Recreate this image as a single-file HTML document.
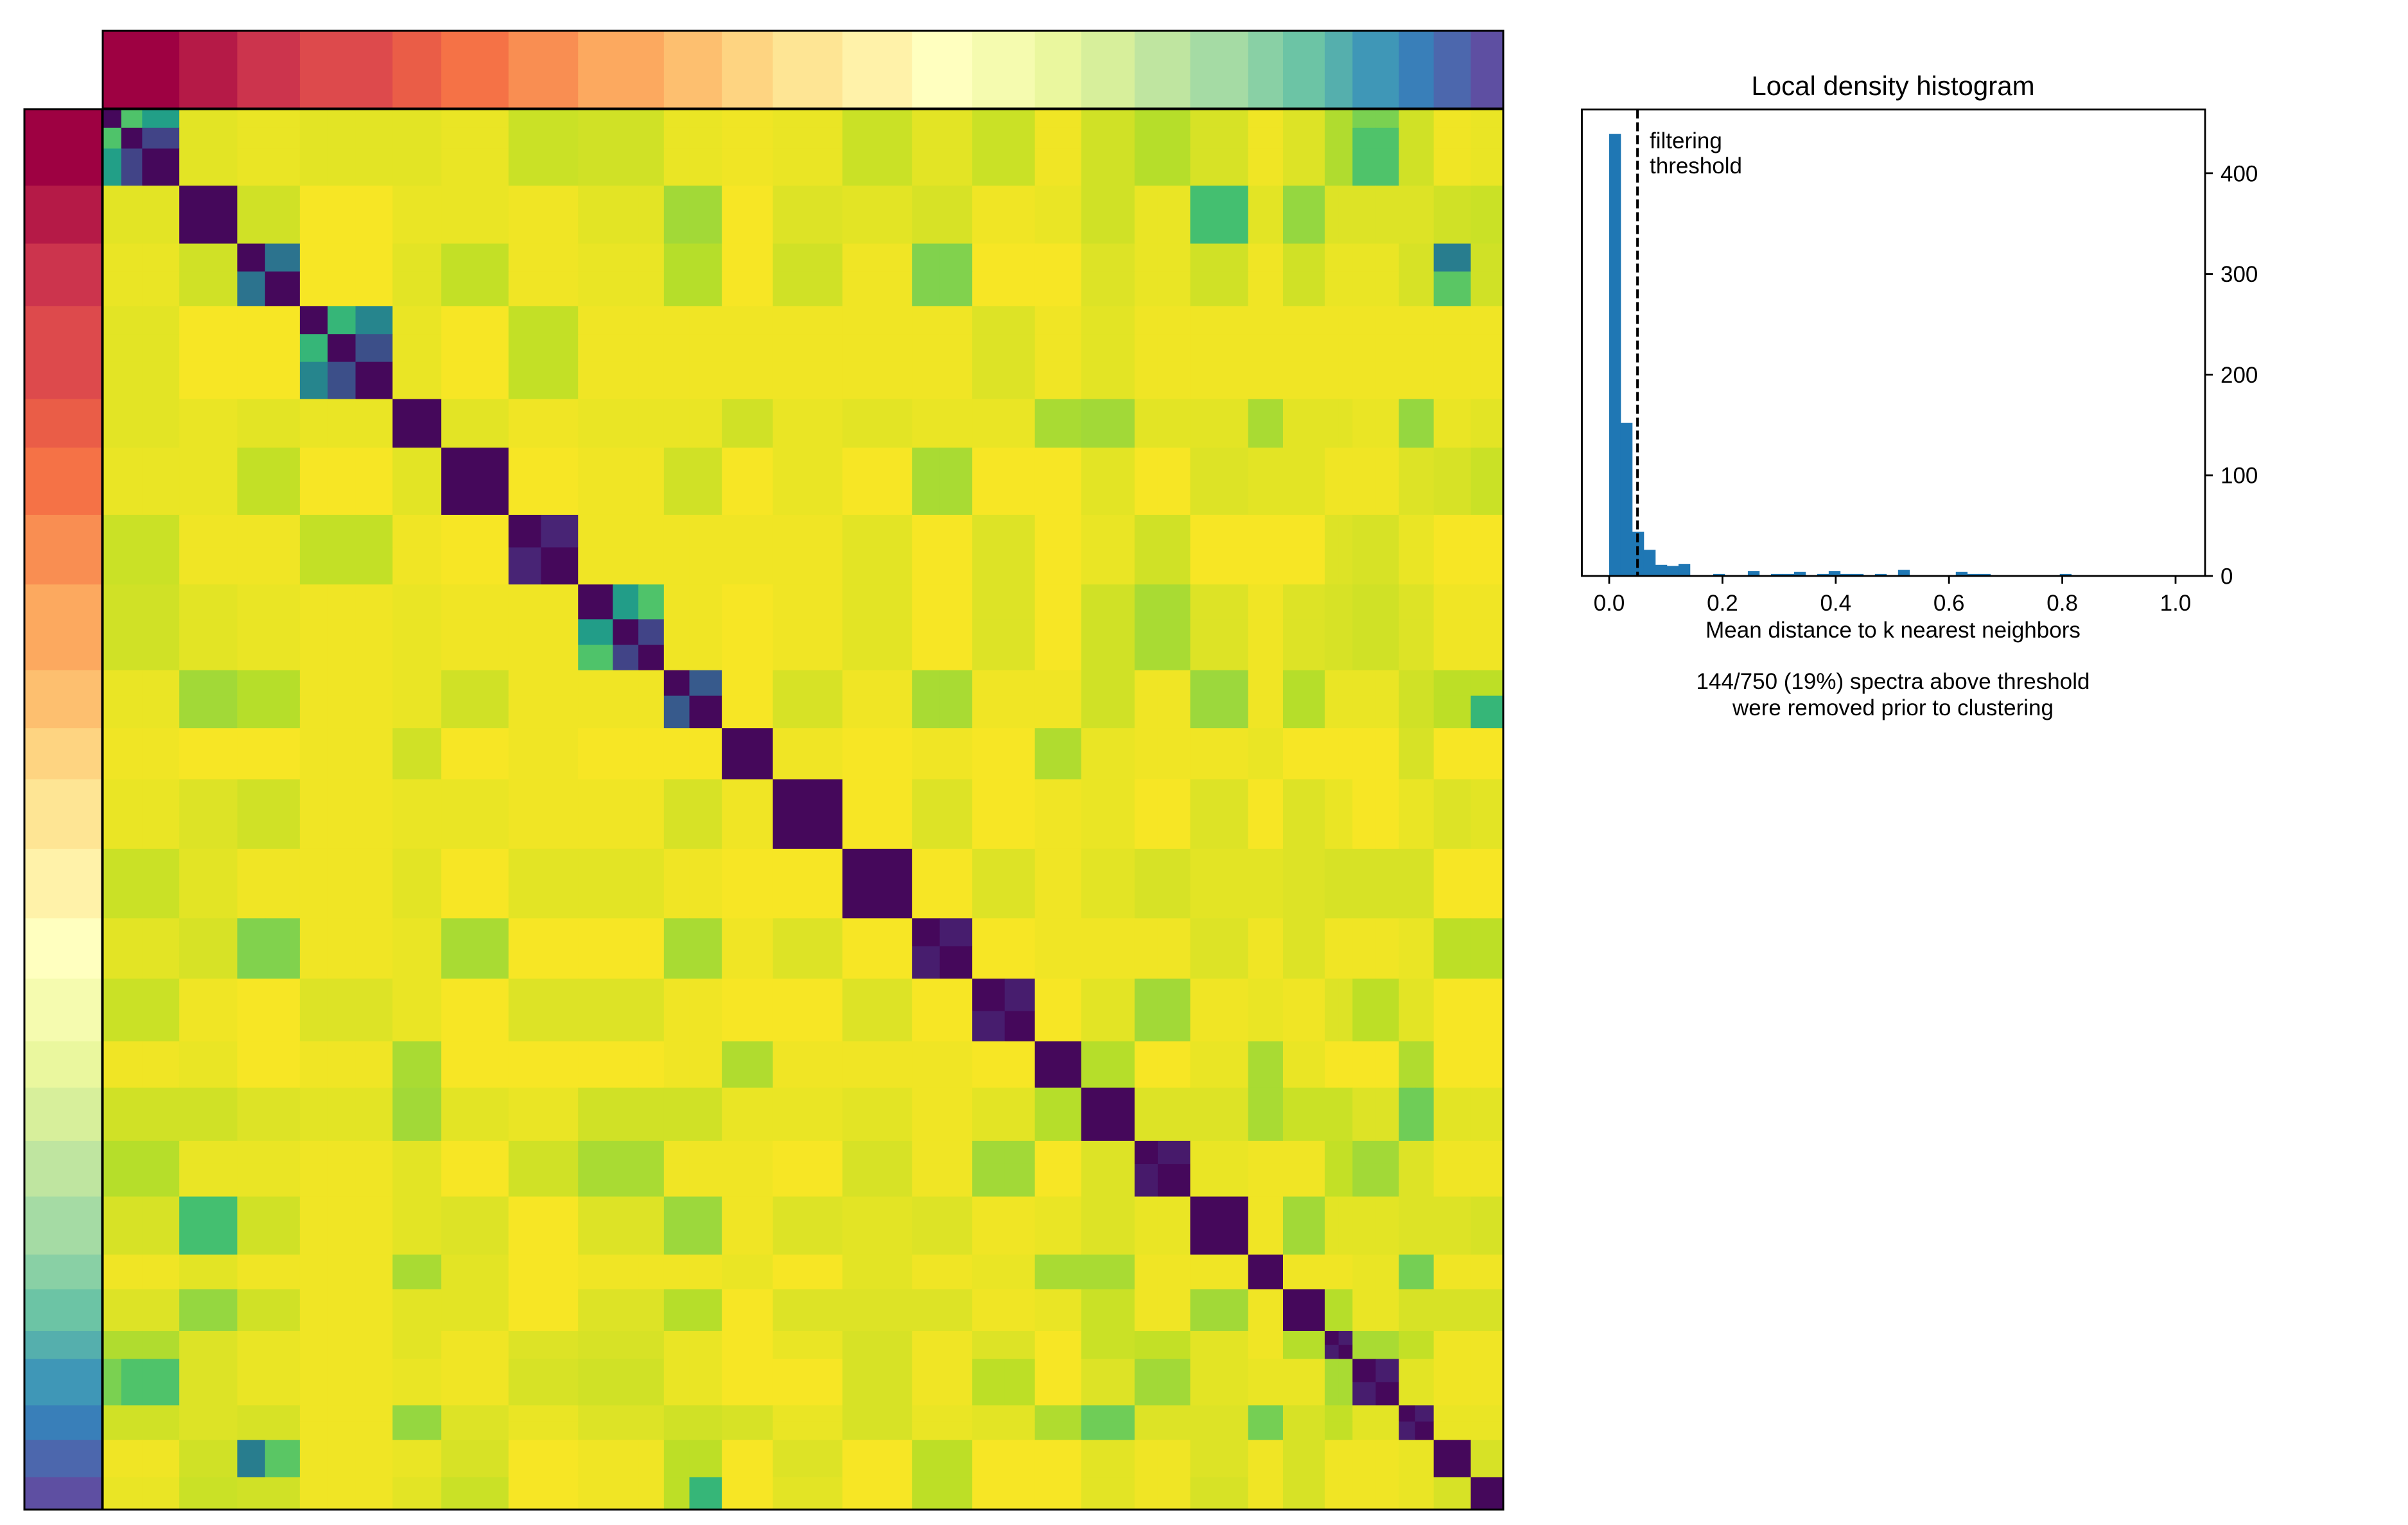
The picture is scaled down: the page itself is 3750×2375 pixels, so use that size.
<!DOCTYPE html>
<html><head><meta charset="utf-8">
<style>
html,body{margin:0;padding:0;background:#fff;}
svg{display:block;}
text{font-family:"Liberation Sans","DejaVu Sans",sans-serif;fill:#000;}
</style></head>
<body>
<svg id="fig" width="3750" height="2375" viewBox="0 0 3750 2375" xmlns="http://www.w3.org/2000/svg">
  <g id="heat"></g>
  <g id="topbar"></g>
  <g id="leftbar"></g>
  <g id="hist"></g>
</svg>
<script>
// ---- heatmap data ----
const subSizes = [[8,9,16],[25],[12,15],[12,12,16],[21],[29],[14,16],[15,11,11],[11,14],[22],[30],[30],[12,14],[14,13],[20],[23],[10,14],[25],[15],[18],[6,6],[10,10],[7,8],[16],[14]];
const clusterDistUpper = [
[0.96,0.97,0.96,0.96,0.97,0.92,0.93,0.97,0.98,0.97,0.92,0.96,0.92,0.98,0.93,0.89,0.94,0.98,0.95,0.88,0.72,0.93,0.98,0.97],
[0.93,0.99,0.97,0.97,0.98,0.96,0.86,0.99,0.95,0.96,0.94,0.98,0.97,0.93,0.97,0.70,0.96,0.84,0.95,0.95,0.95,0.93,0.92],
[0.99,0.96,0.91,0.98,0.97,0.89,0.99,0.93,0.98,0.81,0.99,0.99,0.95,0.97,0.93,0.98,0.93,0.97,0.97,0.94,0.58,0.93],
[0.97,0.99,0.91,0.98,0.98,0.98,0.98,0.98,0.98,0.95,0.98,0.96,0.98,0.98,0.98,0.98,0.98,0.98,0.98,0.98,0.98],
[0.96,0.98,0.97,0.97,0.93,0.97,0.96,0.97,0.97,0.87,0.86,0.96,0.96,0.87,0.96,0.96,0.97,0.84,0.97,0.96],
[0.99,0.98,0.93,0.99,0.97,0.99,0.87,0.99,0.99,0.96,0.99,0.95,0.96,0.96,0.98,0.98,0.95,0.94,0.92],
[0.98,0.98,0.98,0.98,0.96,0.99,0.95,0.99,0.97,0.93,0.99,0.99,0.99,0.95,0.94,0.97,0.99,0.99],
[0.98,0.99,0.98,0.96,0.99,0.95,0.99,0.93,0.87,0.95,0.98,0.95,0.94,0.93,0.95,0.98,0.98],
[0.99,0.94,0.98,0.87,0.98,0.98,0.93,0.98,0.85,0.98,0.89,0.97,0.97,0.93,0.90,0.78],
[0.98,0.99,0.98,0.99,0.88,0.97,0.98,0.98,0.97,0.99,0.99,0.99,0.94,0.99,0.99],
[0.99,0.95,0.99,0.98,0.97,0.99,0.95,0.99,0.95,0.97,0.99,0.97,0.95,0.96],
[0.99,0.95,0.98,0.96,0.94,0.96,0.96,0.95,0.94,0.94,0.94,0.99,0.99],
[0.99,0.98,0.98,0.98,0.95,0.98,0.95,0.98,0.98,0.97,0.90,0.90],
[0.99,0.96,0.86,0.98,0.97,0.98,0.95,0.90,0.96,0.99,0.99],
[0.89,0.99,0.97,0.87,0.97,0.99,0.99,0.88,0.99,0.99],
[0.95,0.95,0.87,0.92,0.92,0.95,0.78,0.96,0.96],
[0.97,0.98,0.98,0.91,0.86,0.95,0.98,0.98],
[0.98,0.86,0.96,0.96,0.95,0.95,0.94],
[0.98,0.98,0.97,0.79,0.98,0.98],
[0.89,0.97,0.94,0.94,0.94],
[0.87,0.91,0.98,0.98],
[0.96,0.98,0.98],
[0.97,0.97],
[0.94]];
const withinPairs = [[0,0,1,0.72],[0,0,2,0.56],[0,1,2,0.2],[2,0,1,0.38],[3,0,1,0.66],[3,0,2,0.45],[3,1,2,0.24],[6,0,1,0.1],[7,0,1,0.55],[7,0,2,0.72],[7,1,2,0.2],[8,0,1,0.28],[12,0,1,0.08],[13,0,1,0.08],[16,0,1,0.07],[20,0,1,0.08],[21,0,1,0.08],[22,0,1,0.08]];
const subOverrides = [[2,0,23,0.42],[2,1,23,0.74],[0,0,21,0.8],[8,0,24,0.9],[8,1,24,0.66]];
const diagValue = 0.02;

// ---- histogram data ----
const binWidth = 0.0204;
const binCounts = [439,152,44,26,11,10,12,0,0,2,0,0,5,0,2,2,4,0,2,5,2,2,0,2,0,6,0,0,0,0,4,2,2,0,0,0,0,0,0,2,0,0,0,0,0,0,0,0,0];
const xTicks = [0,0.2,0.4,0.6,0.8,1.0];
const xTickLabels = ["0.0","0.2","0.4","0.6","0.8","1.0"];
const yTicks = [0,100,200,300,400];
const yTickLabels = ["0","100","200","300","400"];
const threshold = 0.05;

const NS = "http://www.w3.org/2000/svg";
function mk(tag, attrs, parent){const e=document.createElementNS(NS,tag);for(const k in attrs)e.setAttribute(k,attrs[k]);parent.appendChild(e);return e;}
function hex(h){return [parseInt(h.substr(1,2),16),parseInt(h.substr(3,2),16),parseInt(h.substr(5,2),16)];}
function cmap(stops,v){v=Math.max(0,Math.min(1,v));const n=stops.length-1;const p=v*n;let i=Math.floor(p);if(i>=n)i=n-1;const t=p-i;const a=hex(stops[i]),b=hex(stops[i+1]);return "rgb("+a.map((x,k)=>Math.round(x+(b[k]-x)*t)).join(",")+")";}
const VIR=["#440154","#482475","#414487","#355f8d","#2a788e","#21918c","#22a884","#44bf70","#7ad151","#bddf26","#fde725"];
const SPEC=["#9e0142","#d53e4f","#f46d43","#fdae61","#fee08b","#ffffbf","#e6f598","#abdda4","#66c2a5","#3288bd","#5e4fa2"];

const HX=160, HY=170, HW=2181;
const nC=subSizes.length;
const total=subSizes.flat().reduce((a,b)=>a+b,0);
const subs=[]; let acc=0;
subSizes.forEach((arr,c)=>arr.forEach((s,k)=>{subs.push({c:c,k:k,start:acc,size:s});acc+=s;}));
const pos=u=>u/total*HW;
function cdist(a,b){if(a===b)return null;const i=Math.min(a,b),j=Math.max(a,b);return clusterDistUpper[i][j-i-1];}
function value(s1,s2){
  if(s1.c===s2.c){
    if(s1.k===s2.k)return diagValue;
    for(const w of withinPairs){if(w[0]===s1.c&&((w[1]===s1.k&&w[2]===s2.k)||(w[1]===s2.k&&w[2]===s1.k)))return w[3];}
    return 0.1;
  }
  for(const o of subOverrides){
    if(o[0]===s1.c&&o[1]===s1.k&&o[2]===s2.c)return o[3];
    if(o[0]===s2.c&&o[1]===s2.k&&o[2]===s1.c)return o[3];
  }
  return cdist(s1.c,s2.c);
}
const heatG=document.getElementById('heat');
subs.forEach((r)=>subs.forEach((cc)=>{
  const x=HX+pos(cc.start),y=HY+pos(r.start);
  const rect=mk('rect',{x:x.toFixed(2),y:y.toFixed(2),width:(pos(cc.size)+0.6).toFixed(2),height:(pos(r.size)+0.6).toFixed(2),fill:cmap(VIR,value(r,cc))},heatG);
  
  
}));
const hb=mk('rect',{x:HX,y:HY,width:HW,height:HW,fill:'none',stroke:'#000','stroke-width':3},heatG);



const topG=document.getElementById('topbar'), leftG=document.getElementById('leftbar');
let cs=0;
subSizes.forEach((arr,c)=>{
  const sz=arr.reduce((a,b)=>a+b,0);
  const col=cmap(SPEC,c/(nC-1));
  const t=mk('rect',{x:(HX+pos(cs)).toFixed(2),y:48,width:(pos(sz)+0.6).toFixed(2),height:121,fill:col},topG);
  
  
  const l=mk('rect',{x:38,y:(HY+pos(cs)).toFixed(2),width:121,height:(pos(sz)+0.6).toFixed(2),fill:col},leftG);
  
  
  cs+=sz;
});
const tb=mk('rect',{x:HX,y:48,width:HW,height:121,fill:'none',stroke:'#000','stroke-width':3},topG);


const lb=mk('rect',{x:38,y:HY,width:121,height:HW,fill:'none',stroke:'#000','stroke-width':3},leftG);



const histG=document.getElementById('hist');
const AX0=2463.5, AX1=3434, AY0=170.5, AY1=897;
const xs=v=>2506+v*882;
const ys=v=>897-v*1.568;
binCounts.forEach((n,i)=>{
  if(n<=0)return;
  const b=mk('rect',{x:xs(i*binWidth).toFixed(2),y:ys(n).toFixed(2),width:(xs((i+1)*binWidth)-xs(i*binWidth)+0.3).toFixed(2),height:(ys(0)-ys(n)).toFixed(2),fill:'#1f77b4'},histG);
  
  
});
const tl=mk('line',{x1:xs(threshold),x2:xs(threshold),y1:AY0,y2:AY1,stroke:'#000','stroke-width':4,'stroke-dasharray':'14,6'},histG);


const fr=mk('rect',{x:AX0,y:AY0,width:AX1-AX0,height:AY1-AY0,fill:'none',stroke:'#000','stroke-width':2.8},histG);


xTicks.forEach((v,i)=>{
  const tk=mk('line',{x1:xs(v),x2:xs(v),y1:AY1,y2:AY1+12,stroke:'#000','stroke-width':2.8},histG);
  
  
  const tx=mk('text',{x:xs(v),y:951,'font-size':35,'text-anchor':'middle'},histG);
  tx.textContent=xTickLabels[i];
  
  
});
yTicks.forEach((v,i)=>{
  const tk=mk('line',{x1:AX1,x2:AX1+12,y1:ys(v),y2:ys(v),stroke:'#000','stroke-width':2.8},histG);
  
  
  const tx=mk('text',{x:3458,y:ys(v)+12.5,'font-size':35,'text-anchor':'start'},histG);
  tx.textContent=yTickLabels[i];
  
  
});
</script>
<script>
(function(){
const hg=document.getElementById('hist');
const NS="http://www.w3.org/2000/svg";
function t(x,y,s,anchor,str){const e=document.createElementNS(NS,'text');e.setAttribute('x',x);e.setAttribute('y',y);e.setAttribute('font-size',s);e.setAttribute('text-anchor',anchor);e.textContent=str;hg.appendChild(e);return e;}
let e;
e=t(2948,148,42,'middle','Local density histogram');


e=t(2569,231,35,'start','filtering');


e=t(2569,270,35,'start','threshold');


e=t(2948,993,35,'middle','Mean distance to k nearest neighbors');


e=t(2948,1073,35,'middle','144/750 (19%) spectra above threshold');


e=t(2948,1114,35,'middle','were removed prior to clustering');


})();
</script>
</body></html>
